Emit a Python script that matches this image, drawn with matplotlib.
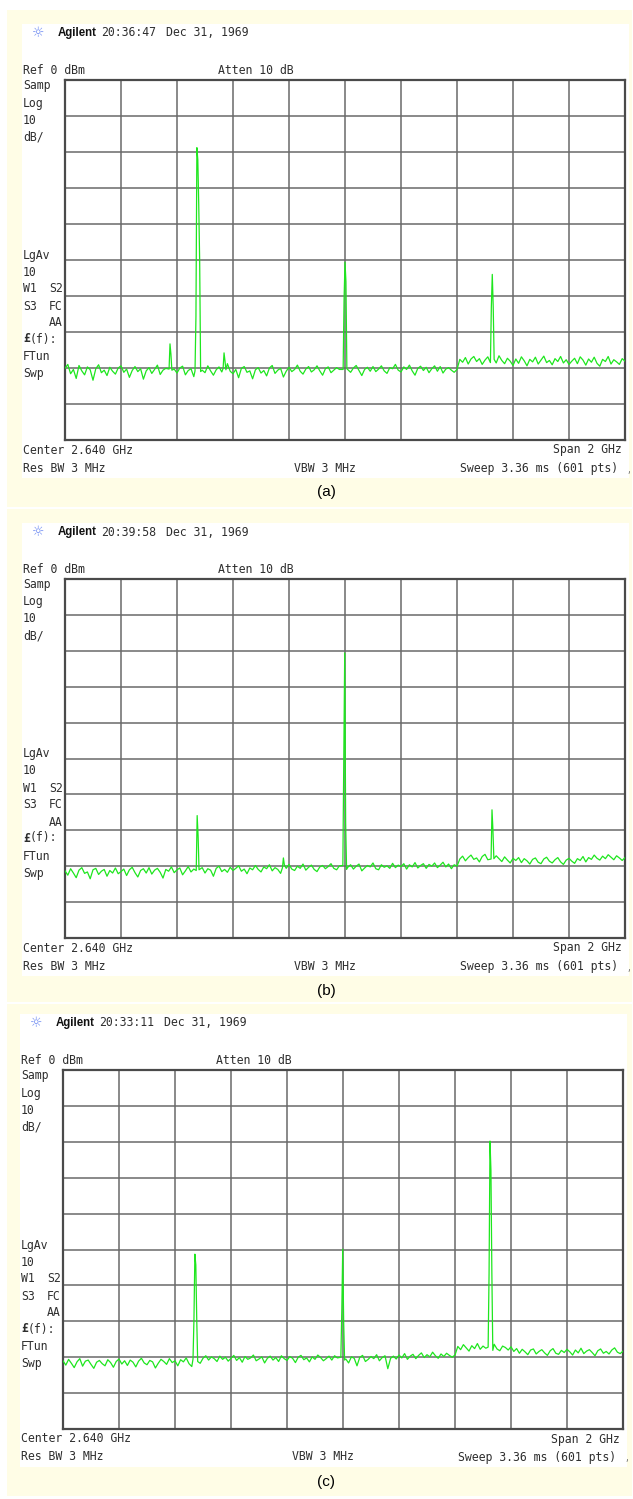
import numpy as np
import matplotlib.pyplot as plt
from matplotlib.patches import Rectangle

W, H = 633, 1499

# analyzer sweep settings
center_ghz = 2.640
span_ghz = 2.0
ref_dbm = 0
db_per_div = 10
n_divs = 10
sweep_pts = 601

captions = ["(a)", "(b)", "(c)"]
timestamps = ["20:36:47", "20:39:58", "20:33:11"]

# noise floor, one reading every 10 MHz across the span (dBm)
noise_a = [
    -80.1, -79.0, -81.6, -80.4, -82.9, -79.3, -80.8, -81.9, -79.7, -80.5, -83.4, -80.2, -79.1, -81.3, -80.6, -82.1, -79.8, -80.9, -81.7, -80.0,
    -79.4, -81.2, -80.3, -82.6, -80.7, -79.6, -81.0, -80.2, -83.1, -80.8, -79.9, -81.5, -80.4, -79.2, -81.8, -80.6, -80.1, -78.9, -81.0, -80.3,
    -81.4, -80.0, -79.5, -81.9, -80.7, -80.2, -82.4, -80.9, -79.8, -80.6, -81.3, -79.4, -80.8, -82.0, -80.5, -79.7, -81.1, -80.3, -78.8, -80.9,
    -81.6, -80.4, -82.7, -80.1, -79.6, -81.2, -80.8, -83.0, -80.5, -79.9, -81.4, -80.7, -82.2, -80.0, -79.3, -81.5, -80.6, -80.1, -82.5, -80.9,
    -79.8, -81.0, -80.4, -79.2, -80.9, -81.7, -80.3, -79.6, -81.1, -80.5, -79.4, -80.8, -82.0, -80.2, -79.7, -81.3, -80.6, -79.9, -80.4, -79.1,
    -80.6, -79.5, -81.2, -80.0, -79.3, -80.7, -82.1, -80.4, -79.8, -80.9, -79.6, -81.0, -80.3, -79.4, -80.8, -81.5, -79.9, -80.2, -79.0, -80.6,
    -81.1, -79.7, -80.4, -79.2, -80.8, -82.0, -80.1, -79.5, -80.7, -79.8, -81.3, -80.2, -79.4, -80.9, -79.6, -81.4, -80.3, -79.9, -80.6, -81.2,
    -80.4, -77.6, -78.4, -77.1, -78.9, -77.5, -76.8, -78.2, -77.4, -79.0, -77.8, -76.9, -78.3, -77.7, -78.6, -76.6, -77.9, -78.8, -77.3, -78.1,
    -79.3, -77.5, -78.7, -76.9, -78.0, -79.4, -77.6, -78.3, -77.0, -78.9, -77.8, -76.7, -78.5, -77.9, -79.1, -77.4, -78.2, -76.8, -78.6, -77.7,
    -79.0, -78.1, -77.3, -78.8, -76.9, -77.8, -79.2, -77.5, -78.4, -77.0, -78.7, -79.5, -77.6, -78.2, -76.8, -78.9, -77.7, -78.3, -79.0, -77.4,
    -78.1,
]
noise_b = [
    -81.3, -82.5, -80.7, -81.9, -83.2, -81.1, -80.4, -82.0, -81.6, -83.5, -81.0, -80.6, -82.3, -81.4, -80.9, -82.8, -81.2, -81.9, -80.5, -82.1,
    -81.5, -80.8, -82.6, -81.0, -80.3, -81.8, -83.0, -81.2, -80.7, -81.9, -80.4, -82.2, -81.1, -80.6, -81.7, -83.3, -80.9, -81.4, -80.2, -81.8,
    -81.0, -80.5, -82.4, -81.3, -80.1, -81.6, -80.8, -82.0, -81.2, -80.4, -81.9, -80.7, -81.1, -82.8, -80.6, -80.0, -81.5, -80.9, -81.7, -80.3,
    -81.2, -80.6, -79.9, -81.4, -80.8, -82.1, -80.5, -81.0, -79.8, -80.9, -81.6, -80.2, -80.7, -79.6, -81.3, -80.4, -80.9, -82.0, -80.1, -80.6,
    -79.5, -80.8, -81.2, -80.0, -80.6, -79.4, -81.1, -80.3, -79.7, -80.9, -81.5, -80.2, -79.8, -80.7, -80.1, -79.3, -80.6, -81.0, -79.9, -80.4,
    -81.2, -80.3, -79.6, -80.8, -80.0, -79.4, -81.3, -80.5, -79.8, -80.2, -79.1, -80.7, -81.0, -79.6, -80.3, -79.9, -80.6, -79.2, -80.4, -79.7,
    -80.1, -79.3, -80.8, -79.6, -80.2, -79.0, -80.5, -79.8, -79.3, -80.6, -79.5, -80.0, -79.1, -80.4, -79.7, -78.9, -80.2, -79.4, -80.7, -79.6,
    -80.0, -78.0, -77.2, -78.5, -77.6, -76.9, -78.1, -77.7, -78.8, -77.3, -76.7, -78.2, -77.5, -78.6, -77.1, -77.9, -78.7, -77.4, -78.3, -79.1,
    -77.8, -78.4, -77.6, -79.0, -77.9, -78.5, -79.4, -78.1, -77.7, -78.9, -79.3, -78.0, -77.5, -78.6, -79.1, -78.2, -77.6, -78.8, -79.5, -78.3,
    -77.8, -78.6, -79.2, -77.9, -78.4, -77.3, -78.8, -77.6, -78.1, -76.9, -77.8, -78.3, -77.2, -77.9, -76.8, -77.5, -78.2, -77.1, -77.7, -78.4,
    -77.6,
]
noise_c = [
    -81.0, -82.2, -80.6, -81.7, -82.9, -81.3, -80.4, -82.5, -81.1, -80.8, -82.0, -83.1, -81.4, -80.9, -81.8, -82.4, -80.7, -81.5, -82.8, -81.2,
    -80.5, -81.9, -81.0, -82.3, -80.8, -81.4, -82.7, -81.1, -80.3, -81.6, -82.1, -80.9, -81.3, -83.0, -81.7, -80.6, -81.2, -82.0, -80.4, -81.5,
    -81.0, -82.4, -80.7, -81.3, -80.2, -81.8, -82.6, -81.1, -80.5, -81.7, -80.3, -79.6, -80.8, -79.9, -80.4, -81.2, -79.7, -80.6, -80.0, -81.1,
    -80.3, -79.5, -80.9, -80.1, -81.4, -79.8, -80.6, -80.2, -79.4, -81.0, -80.5, -79.9, -81.6, -80.3, -79.7, -80.8, -80.1, -81.2, -79.6, -80.4,
    -80.9, -79.8, -80.3, -81.5, -80.0, -79.5, -80.7, -80.2, -81.3, -79.9, -80.6, -79.4, -80.1, -81.0, -80.4, -79.7, -80.8, -79.6, -80.2, -81.1,
    -79.8, -80.5, -81.6, -79.9, -80.3, -82.4, -80.0, -79.5, -81.2, -80.6, -79.8, -80.4, -79.3, -81.0, -80.1, -79.6, -83.2, -80.3, -79.7, -80.5,
    -79.4, -80.2, -79.0, -80.6, -79.7, -79.2, -80.4, -79.5, -78.8, -80.1, -79.3, -79.9, -78.6, -79.6, -80.3, -79.1, -79.8, -78.9, -79.5, -80.0,
    -79.4, -77.0, -77.9, -76.5, -77.4, -78.3, -76.8, -77.6, -76.2, -77.8, -76.9, -77.5, -78.6, -77.2, -76.4, -77.7, -78.2, -76.9, -77.3, -78.0,
    -77.1, -78.4, -77.6, -78.9, -77.8, -78.5, -79.3, -78.0, -77.7, -79.1, -78.4, -77.9, -78.8, -79.5, -78.2, -77.6, -78.9, -79.2, -78.1, -78.7,
    -77.8, -78.5, -79.4, -78.0, -78.8, -77.5, -79.0, -78.3, -77.9, -78.7, -79.6, -78.2, -77.7, -78.9, -78.4, -79.1, -78.0, -77.4, -78.6, -79.0,
    -78.3,
]

# spectral lines: frequency of the top (GHz) and trace readings across the line (dBm)
lines_a = [
    (2.015, [-80.3, -73.3, -76.2, -80.6]),
    (2.111, [-80.8, -65.7, -18.8, -22.2, -34.7, -50.5, -81.0]),
    (2.208, [-80.1, -75.8, -78.0, -80.5]),
    (2.640, [-80.4, -61.0, -50.6, -56.0, -80.2]),
    (3.166, [-78.5, -63.0, -54.0, -63.0, -77.6]),
]
lines_b = [
    (2.112, [-81.2, -65.9, -71.5, -81.0]),
    (2.420, [-80.4, -77.7, -79.6]),
    (2.639, [-79.8, -50.4, -20.6, -68.0, -80.9]),
    (3.165, [-78.0, -64.3, -70.0, -77.9]),
]
lines_c = [
    (2.111, [-80.5, -69.6, -51.3, -54.3, -69.6, -81.2]),
    (2.639, [-80.0, -67.4, -49.9, -70.0, -80.8]),
    (3.165, [-77.2, -56.8, -19.8, -27.9, -56.8, -78.1]),
]

noise = [noise_a, noise_b, noise_c]
lines = [lines_a, lines_b, lines_c]

# screen geometry of each capture, in pixels: grid box, screenshot box, caption row
panels = [
    dict(grid=(65, 80, 625, 440), shot=(22, 24, 629, 478), back=(7, 10, 632, 507), cap=492),
    dict(grid=(65, 579, 625, 938), shot=(22, 523, 629, 976), back=(7, 509, 632, 1002), cap=991),
    dict(grid=(63, 1070, 623, 1429), shot=(20, 1014, 627, 1467), back=(7, 1004, 632, 1496), cap=1482),
]

MONO = "DejaVu Sans Mono"
FS = 8.3
INK = "#2e2e2e"
TRACE = "#1ee61e"
YELLOW = "#fffde6"

fig = plt.figure(figsize=(W / 100, H / 100), dpi=100)
fig.patch.set_facecolor("white")


def box(x0, y0, x1, y1, color):
    fig.add_artist(Rectangle((x0 / W, 1 - y1 / H), (x1 - x0) / W, (y1 - y0) / H,
                             transform=fig.transFigure, facecolor=color,
                             edgecolor="none", zorder=0))


def txt(x, y, s, **kw):
    opts = dict(family=MONO, fontsize=FS, color=INK, va="center")
    opts.update(kw)
    fig.text(x / W, 1 - y / H, s, **opts)


def build_trace(levels, peaks):
    f_lo = center_ghz - span_ghz / 2
    f_hi = center_ghz + span_ghz / 2
    step = span_ghz / (sweep_pts - 1)
    f = np.linspace(f_lo, f_hi, len(levels))
    lv = np.array(levels, float)
    for fc, prof in peaks:
        prof = np.array(prof, float)
        pf = fc + step * (np.arange(len(prof)) - np.argmax(prof))
        keep = (f < pf[0] - step) | (f > pf[-1] + step)
        f = np.concatenate([f[keep], pf])
        lv = np.concatenate([lv[keep], prof])
        order = np.argsort(f)
        f, lv = f[order], lv[order]
    return f, lv


for k, p in enumerate(panels):
    box(*p["back"], YELLOW)
    box(*p["shot"], "white")
    L, T, R, B = p["grid"]
    sx = p["shot"][0] + 1

    ax = fig.add_axes([L / W, 1 - B / H, (R - L) / W, (B - T) / H])
    ax.set_facecolor("white")
    f_lo = center_ghz - span_ghz / 2
    ax.set_xlim(f_lo, f_lo + span_ghz)
    ax.set_ylim(ref_dbm - db_per_div * n_divs, ref_dbm)
    ax.set_xticks(np.linspace(f_lo, f_lo + span_ghz, n_divs + 1))
    ax.set_yticks(np.arange(ref_dbm - db_per_div * n_divs, ref_dbm + 1, db_per_div))
    ax.tick_params(length=0, labelbottom=False, labelleft=False)
    ax.grid(True, color="#6a6a6a", lw=1.1)
    ax.set_axisbelow(True)
    for s in ax.spines.values():
        s.set_color("#4a4a4a")
        s.set_linewidth(1.6)

    f, lv = build_trace(noise[k], lines[k])
    ax.plot(f, lv, color=TRACE, lw=0.9, zorder=3)

    # header line
    txt(sx + 15, T - 47, "\u263c", family="DejaVu Sans", fontsize=10, color="#6f8cf2", ha="center")
    txt(sx + 35, T - 47, "Agilent", family="Liberation Sans", fontsize=8.3, weight="bold", color="#111111")
    txt(sx + 78, T - 47, timestamps[k])
    txt(sx + 143, T - 47, "Dec 31, 1969")

    txt(sx, T - 9, "Ref %d dBm" % ref_dbm)
    txt(218 - (65 - L), T - 9, "Atten 10 dB")

    # left annotation column
    for dy, s in [(6, "Samp"), (23, "Log"), (40, "10"), (57, "dB/"),
                  (175, "LgAv"), (192, "10"), (277, "FTun"), (294, "Swp")]:
        txt(sx, T + dy, s)
    txt(sx, T + 209, "W1")
    txt(L - 2, T + 209, "S2", ha="right")
    txt(sx, T + 226, "S3")
    txt(L - 2, T + 226, "FC", ha="right")
    txt(L - 2, T + 243, "AA", ha="right")
    txt(sx, T + 259, "\u00a3", weight="bold")
    txt(sx + 7, T + 259, "(f):")

    # bottom annotation rows
    txt(sx, B + 10, "Center %.3f GHz" % center_ghz)
    txt(R - 3, B + 10, "Span %g GHz" % span_ghz, ha="right")
    txt(sx, B + 28, "Res BW 3 MHz")
    txt(325 - (65 - L), B + 28, "VBW 3 MHz", ha="center")
    txt(R - 7, B + 28, "Sweep 3.36 ms (%d pts)" % sweep_pts, ha="right")
    txt(R + 1, B + 30, ",", fontsize=6, color="#777777")

    txt(326, p["cap"], captions[k], family="Liberation Sans", fontsize=11, color="black", ha="center")

fig.savefig("out.png", dpi=100, facecolor=fig.get_facecolor())
